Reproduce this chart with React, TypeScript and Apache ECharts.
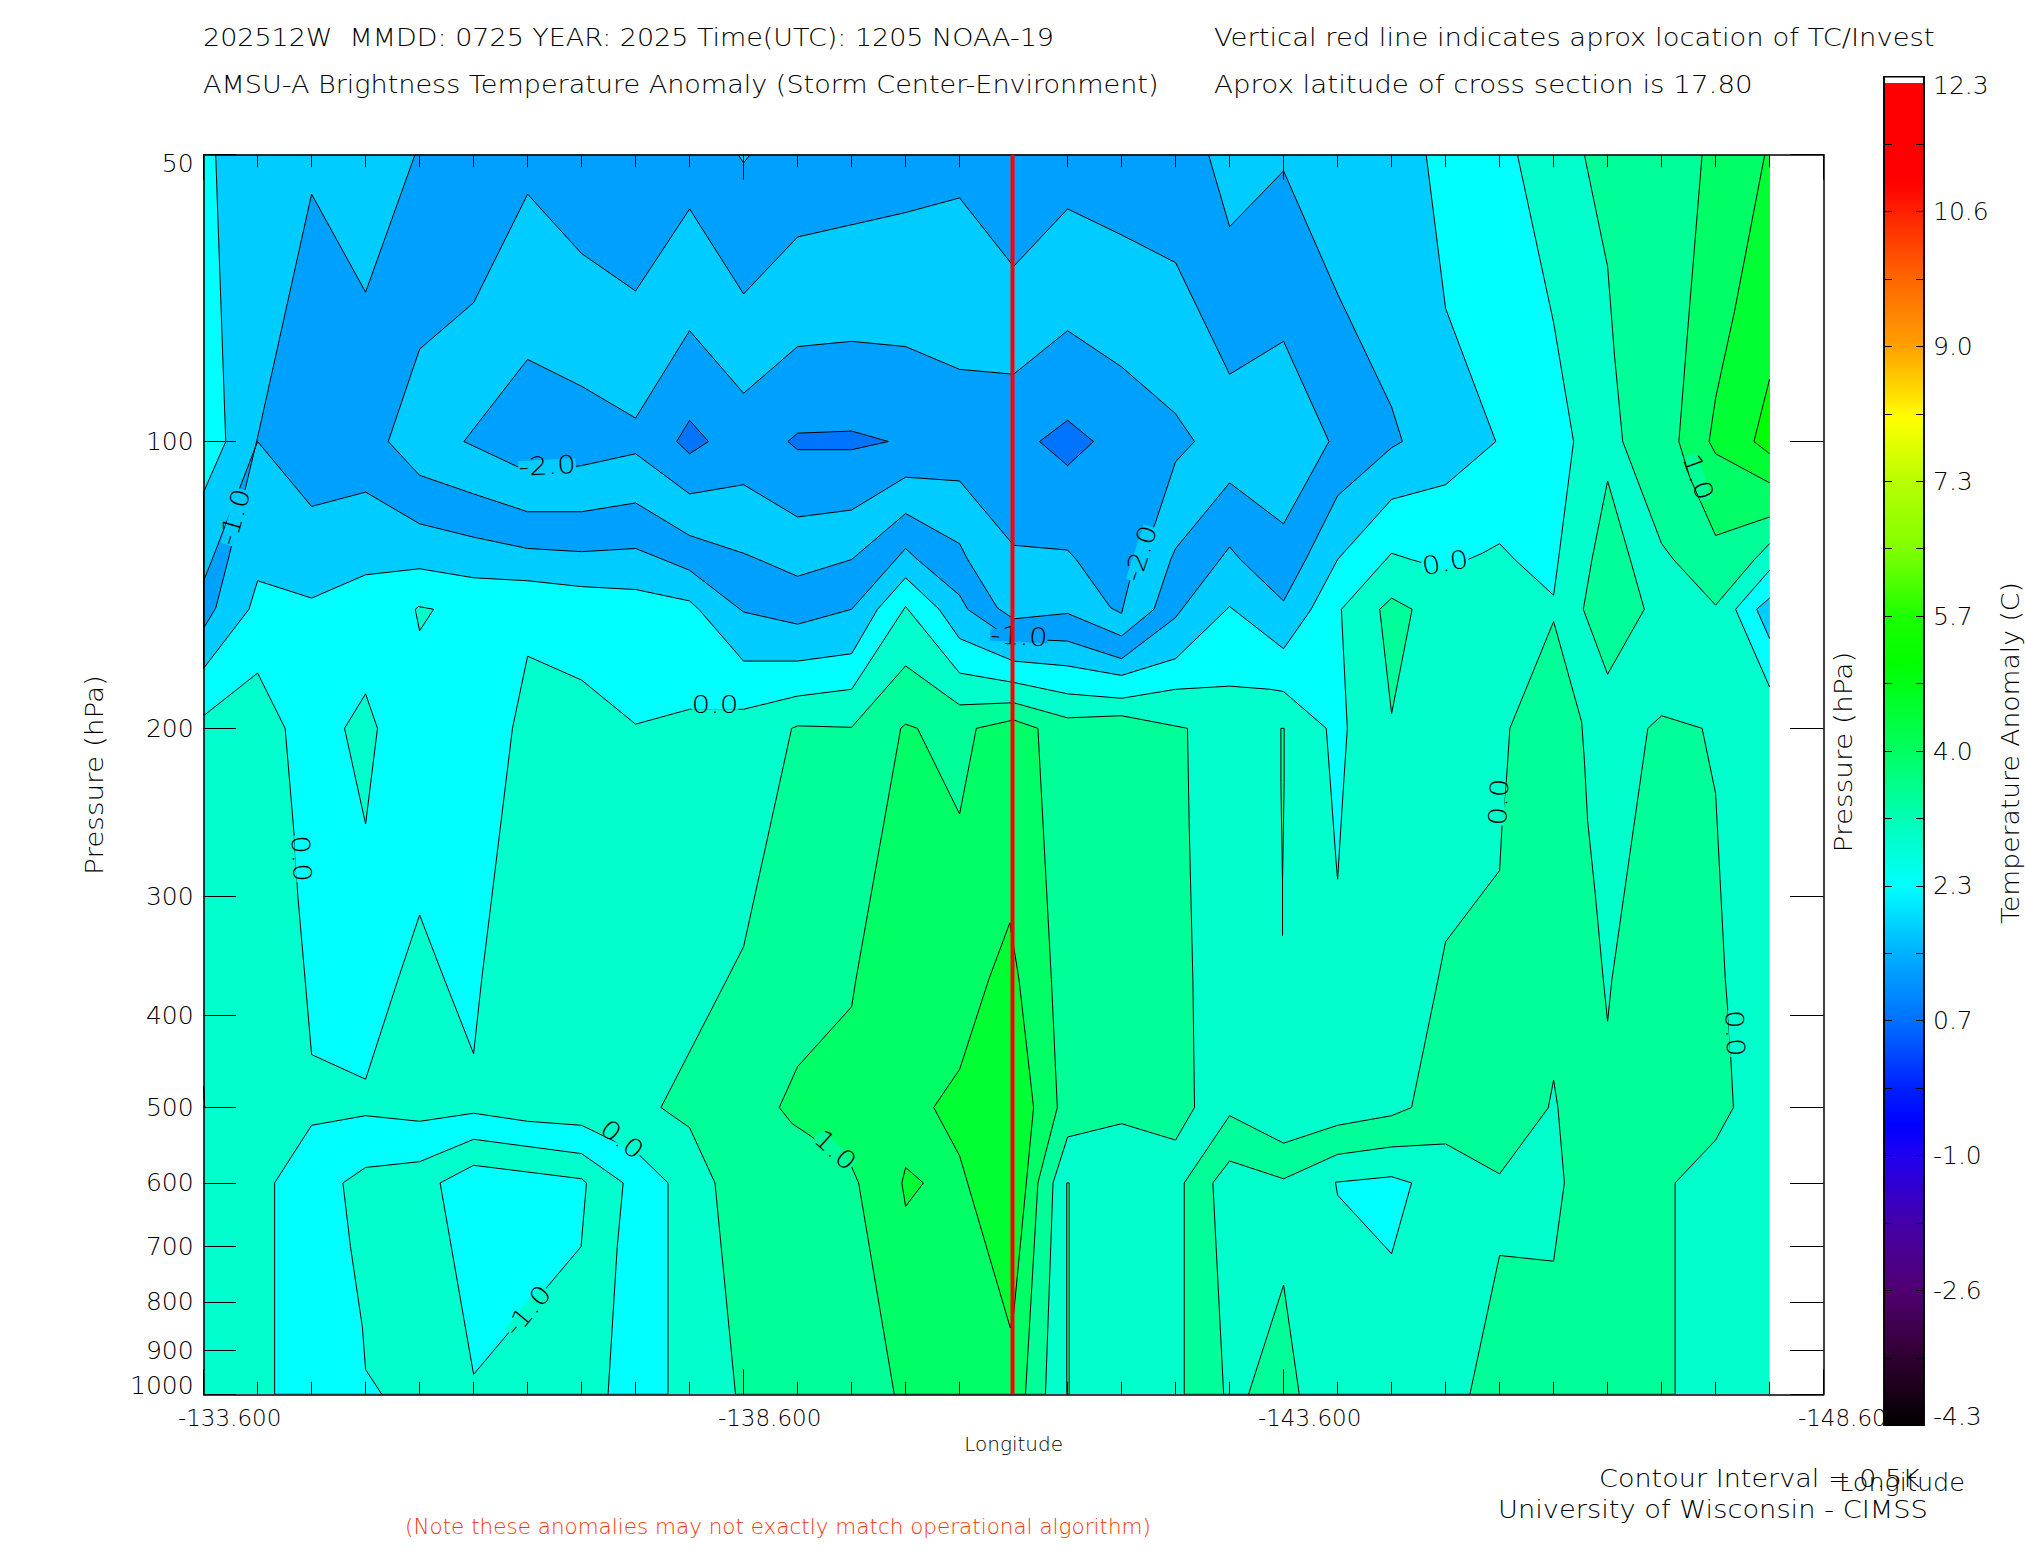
import React, { useEffect, useRef } from "react";
import * as echarts from "echarts";

type Pt = [number, number];

// longitude of grid column k = LON_START + LON_STEP * k ; points are [column, pressure hPa]
const LON_START = -133.6;
const LON_STEP = -0.5;
const LAST_COLUMN = 29;
const RED_LINE_LON = -141.09;

const pressureTicks = [50, 100, 200, 300, 400, 500, 600, 700, 800, 900, 1000];
const lonLabels = [-133.6, -138.6, -143.6, -148.6];
const colorbarLabels = [12.3, 10.64, 8.98, 7.32, 5.66, 4.0, 2.34, 0.68, -0.98, -2.64, -4.3];
const colorbarTicks = Array.from({ length: 21 }, (_, i) => -4.3 + i * 0.83);

const BLUE_A = "#0074ff", BLUE_B = "#00a0ff", BLUE_C = "#00ccff", CYAN = "#00ffff";
const TEAL = "#00ffcc", SPRING = "#00ff99", GREEN_G = "#00ff66", GREEN_H = "#00ff33", GREEN_I = "#00ff00";

const colorStops: [number, string][] = [
  [-4.3, "#000000"], [-3.47, "#300030"], [-2.64, "#500070"], [-1.81, "#4400aa"], [-0.98, "#2000f0"],
  [-0.6, "#0000ff"], [-0.15, "#0020ff"], [0.68, "#0070ff"], [1.51, "#00b0ff"], [2.34, "#00ffff"],
  [3.17, "#00ffb4"], [4.0, "#00ff60"], [5.08, "#00ff00"], [5.66, "#1cff00"], [6.49, "#80ff00"],
  [7.32, "#b8ff00"], [8.1, "#ffff00"], [8.98, "#ffa000"], [9.81, "#ff6600"], [10.64, "#ff2000"],
  [11.0, "#ff0000"], [12.22, "#ff0000"], [12.22, "#ffffff"], [12.3, "#ffffff"],
];

const cyanMain: Pt[] = [[24.33,50],[25,75],[25.37,100],[25.09,133],[25,145],[24.28,133],[24,128],[23.68,131],[23.35,133.5],[22.76,135],[22.36,133],[22,131],[21.07,150],[21.18,200],[21.1,234],[21,288],[20.97,275],[20.885,236],[20.79,200],[20,183],[19.75,182],[19,180.6],[18,182],[17,186],[16,184],[15,179],[14,175],[13,149],[12,182],[11,185],[10,191],[9,191],[8,198],[7,178],[6,168],[5.72,200],[5.15,367],[5,439],[4.46,367],[4,314],[3.6,367],[3,467],[2,440],[1.88,367],[1.745,300],[1.68,260],[1.51,200],[1,175],[0,194]];
const cyanMainClose: Pt[] = [[0,50]];
const tealDiamond: Pt[] = [[3,184],[3.22,200],[3,252],[2.61,200]];
const tealTriangle: Pt[] = [[3.92,150],[3.98,149],[4.26,150],[4,158]];

const blueCMain: Pt[] = [[0.224,50],[0.41,100],[0,113],[0,173],[0.84,150],[1,140],[2,146],[3,138],[4,136],[5,139],[6,140],[7,142],[8,143],[9,147],[9.17,150],[10,170],[11,170],[12,167],[12.48,150],[13,139],[13.62,150],[14,161],[15,170],[16,172],[17,176],[18,169],[19,149],[20,165],[20.51,150],[21,133],[22,115],[23,111],[23.93,100],[23,72.5],[22.64,50]];
const blueBOuter: Pt[] = [[3.915,50],[3,69.7],[2,55],[1,99],[0.456,133],[0.224,149.6],[0,157],[0,140],[0.158,133],[1,100],[2,117],[3,113],[4,122],[5,126],[6,129.5],[7,130.5],[8,129.5],[8.51,133],[9,136.5],[10,151],[11,155.5],[12,150],[13,129.5],[13.22,133],[14,145],[14.15,150],[14.87,160],[15,161],[16,162],[17,169],[18,153],[19,129],[19.2,133],[20,147],[20.41,133],[21,114],[22,101.5],[22.2,100],[22,92],[21,70],[20,52],[19,59.5],[18.61,50]];
const blueCInner: Pt[] = [[3.42,100],[4,80],[5,71.5],[6,55],[7,63.5],[8,69.5],[9,57],[10,70],[11,61],[13,57.5],[14,55.5],[15,65.5],[16,57],[17,60.7],[18,64.9],[19,85],[20,78.5],[20.84,100],[20,122],[19,110.5],[18,129.5],[17.91,133],[17.6,150],[17,160],[16,151.5],[15,153.5],[14.7,149.5],[14.15,133],[14,128],[13,119],[12,133],[11,138.5],[10.28,133],[10,131],[9,125.5],[8,116],[7,118.5],[6,118.5],[5,113.5],[4,108.5]];
const blueBInner: Pt[] = [[4.82,100],[5,97],[6,82],[7,87.5],[8,94.5],[9,76.5],[10,89],[11,79.5],[12,78.5],[13,79.5],[14,84],[15,85],[16,76.5],[17,83.5],[18,93.5],[18.35,100],[18,105],[17.62,122],[17.15,140],[17,151.5],[16.8,149.5],[16.16,133],[16,130],[15,128.5],[14,110],[13,109],[12,118],[11,120],[10,111],[9,113.5],[8,103],[7,106],[6,107.5]];
const blueA1: Pt[] = [[9,95],[9.35,100],[9,103],[8.76,100]];
const blueA2: Pt[] = [[10.82,100],[11,98],[12,97.5],[12.68,100],[12,102],[11,102]];
const blueA3: Pt[] = [[15.48,100],[16,95],[16.48,100],[16,106]];
const topNotch: Pt[] = [[9.9,50],[10,51],[10.12,50]];

const cyanRing: Pt[] = [[1.315,1000],[1.315,600],[2,522],[3,510],[4,517],[5,507],[6,517],[7,522],[8,556],[8.6,600],[8.6,1000]];
const tealRing: Pt[] = [[2.58,600],[3,578],[4,570],[5,540],[7,559],[7.77,600],[7.66,700],[7.49,1000],[3.3,1000],[3,942],[2.94,850],[2.72,700]];
const cyanCore: Pt[] = [[4.38,600],[5,575],[7,594],[7.09,600],[6.99,700],[5,953]];

const springCentre: Pt[] = [[9.85,1000],[9.47,600],[9,525],[8.47,500],[9.69,367],[10,339],[10.89,200],[11,198.8],[12,199.5],[13,172],[14,189],[15,188],[16,195],[17,194],[18.22,200],[18.25,250],[18.32,367],[18.35,500],[18,541],[17,520],[16,537],[15.73,600],[15.59,1000]];
const greenGCentre: Pt[] = [[12.79,1000],[12.13,600],[12,577],[11.23,535],[10.9,520],[10.66,500],[11,453],[12,392],[12.08,367],[12.91,200],[13,198],[13.22,200],[14,246],[14.31,200],[15,196],[15.45,200],[15.7,367],[15.81,500],[15.45,600],[15.22,1000]];
const greenHCentre: Pt[] = [[14.93,320],[15.1,367],[15.37,500],[15,825],[14.94,852],[14,562],[13.52,500],[14,456],[14.54,367]];
const greenHSmall: Pt[] = [[13,578],[13.33,600],[13,635],[12.93,600]];

const springRight: Pt[] = [[18.16,1000],[18.16,600],[19,510],[20,545],[21,522],[22,510],[22.37,500],[22.86,367],[23,335],[24,282],[24.05,250],[24.13,225],[24.19,200],[25,154.5],[25.52,197],[25.57,216],[25.63,250],[25.77,298],[25.92,367],[26,406],[26.08,367],[26.745,200],[27,194],[27.75,200],[28,234],[28.18,367],[28.23,398],[28.28,442],[28.33,500],[28,541],[27.25,600],[27.25,1000]];
const tealRight: Pt[] = [[18.89,1000],[18.69,600],[19,569],[20,594],[21,560],[22,550],[23,546],[24,587],[24.9,500.5],[25,468],[25.08,500],[25.2,600],[25,725],[24,715],[23.45,1000]];
const springPeak: Pt[] = [[19.35,1000],[20,768],[20.29,1000]];
const cyanTriangle: Pt[] = [[20.96,599],[22,591],[22.37,600],[22,712],[21,618]];

const springTop: Pt[] = [[25.57,50],[26,65.5],[26.13,81.5],[26.28,100],[27,128],[27.22,133],[28,148.5],[28.72,133],[29,128]];
const greenGTop: Pt[] = [[27.75,50],[27.52,72],[27.32,100],[27.52,109],[28,125.5],[29,120]];
const greenHTop: Pt[] = [[28.91,50],[28.35,73],[28,90],[27.88,100],[28,103],[29,110.5]];
const greenITop: Pt[] = [[29,86],[28.71,100],[29,103]];
const springKite: Pt[] = [[26,110],[26.42,133],[26.68,150],[26,175.5],[25.55,150],[25.71,133]];
const springKite2: Pt[] = [[22,146],[22.38,150],[22,193],[21.78,150]];
const needleUpper: Pt[] = [[19.95,200],[20.01,200],[20.01,228],[19.98,290],[19.98,330],[19.98,290],[19.95,228]];
const needleLower: Pt[] = [[15.985,1000],[15.985,600],[16.03,600],[16.03,1000]];
const edgeCyan: Pt[] = [[29,136.5],[28.37,150],[29,181]];
const edgeBlue: Pt[] = [[29,146],[28.76,150],[29,161]];
const edgeMark: Pt[] = [[0,475],[0.02,500]];

type Shape = { color: string; pts: Pt[]; close?: Pt[]; noStroke?: boolean };
const shapes: Shape[] = [
  { color: TEAL, pts: [[0, 50], [LAST_COLUMN, 50], [LAST_COLUMN, 1000], [0, 1000]], noStroke: true },
  { color: CYAN, pts: cyanMain, close: cyanMainClose },
  { color: TEAL, pts: tealDiamond }, { color: TEAL, pts: tealTriangle },
  { color: BLUE_C, pts: blueCMain }, { color: BLUE_B, pts: blueBOuter }, { color: BLUE_C, pts: blueCInner },
  { color: BLUE_B, pts: blueBInner }, { color: BLUE_A, pts: blueA1 }, { color: BLUE_A, pts: blueA2 }, { color: BLUE_A, pts: blueA3 },
  { color: BLUE_C, pts: topNotch },
  { color: CYAN, pts: cyanRing }, { color: TEAL, pts: tealRing }, { color: CYAN, pts: cyanCore },
  { color: SPRING, pts: springCentre }, { color: GREEN_G, pts: greenGCentre }, { color: GREEN_H, pts: greenHCentre }, { color: GREEN_H, pts: greenHSmall },
  { color: SPRING, pts: springRight }, { color: TEAL, pts: tealRight }, { color: SPRING, pts: springPeak }, { color: CYAN, pts: cyanTriangle },
  { color: SPRING, pts: springTop, close: [[LAST_COLUMN, 50]] },
  { color: GREEN_G, pts: greenGTop, close: [[LAST_COLUMN, 50]] },
  { color: GREEN_H, pts: greenHTop, close: [[LAST_COLUMN, 50]] },
  { color: GREEN_I, pts: greenITop, close: [] },
  { color: SPRING, pts: springKite }, { color: SPRING, pts: springKite2 },
  { color: SPRING, pts: needleUpper }, { color: SPRING, pts: needleLower },
  { color: CYAN, pts: edgeCyan, close: [] }, { color: BLUE_C, pts: edgeBlue, close: [] },
  { color: TEAL, pts: edgeMark },
];

const contourLabels: { col: number; p: number; text: string; rot: number; bg: string }[] = [
  { col: 6.36, p: 106, text: "-2.0", rot: 3, bg: BLUE_C },
  { col: 0.57, p: 120, text: "-1.0", rot: 74, bg: BLUE_C },
  { col: 17.35, p: 131, text: "-2.0", rot: 72, bg: BLUE_C },
  { col: 15.1, p: 160, text: "-1.0", rot: -3, bg: BLUE_B },
  { col: 9.47, p: 188.5, text: "0.0", rot: 0, bg: CYAN },
  { col: 22.99, p: 134, text: "0.0", rot: 10, bg: CYAN },
  { col: 1.81, p: 274, text: "0.0", rot: -87, bg: CYAN },
  { col: 23.98, p: 239, text: "0.0", rot: 87, bg: TEAL },
  { col: 28.36, p: 418, text: "0.0", rot: -87, bg: TEAL },
  { col: 27.68, p: 109, text: "1.0", rot: -70, bg: SPRING },
  { col: 11.7, p: 554, text: "1.0", rot: -42, bg: SPRING },
  { col: 7.75, p: 540, text: "0.0", rot: -38, bg: TEAL },
  { col: 6.0, p: 817, text: "-1.0", rot: 50, bg: TEAL },
];

const allColumnLons = Array.from({ length: 31 }, (_, k) => LON_START + LON_STEP * k);
const FONT = "DejaVu Sans";
const WEIGHT = 200;
const toLon = (k: number) => LON_START + LON_STEP * k;

const txt = (x: number, y: number, text: string, size: number, opts: any = {}) => ({
  type: "text", x, y, z: 100, rotation: opts.rotation ?? 0, scaleX: opts.scaleX ?? 1,
  style: { text, fontFamily: FONT, fontWeight: WEIGHT, fontSize: size, fill: opts.fill ?? "#000",
    align: opts.align ?? "left", verticalAlign: "middle" },
});

export default function App() {
  const ref = useRef<HTMLDivElement>(null);
  useEffect(() => {
    document.body.style.margin = "0";
    const chart = echarts.init(ref.current!, undefined, { renderer: "svg" });
    const labelFont = { fontFamily: FONT, fontWeight: WEIGHT, color: "#000" };
    const line = { show: true, onZero: false, lineStyle: { color: "#000", width: 1.5 } };
    const tick = (values: number[], length: number) => ({ show: true, inside: true, length, customValues: values, lineStyle: { color: "#000", width: 1 } });
    const xBase = { type: "value", min: -148.6, max: -133.6, inverse: true, gridIndex: 0, z: 5, splitLine: { show: false } };
    const yBase = { type: "log", logBase: 10, min: 50, max: 1000, inverse: true, gridIndex: 0, z: 5, splitLine: { show: false }, minorTick: { show: false } };
    chart.setOption({
      animation: false,
      backgroundColor: "#fff",
      grid: [
        { left: 203.6, top: 154.7, width: 1620, height: 1239.6 },
        { left: 1884, top: 76.7, width: 40, height: 1348.6 },
      ],
      xAxis: [
        { ...xBase, position: "bottom", axisLine: line, axisTick: tick(allColumnLons, 12.5),
          axisLabel: { show: true, customValues: lonLabels, formatter: (v: number) => v.toFixed(3), fontSize: 23, margin: 12, padding: [0, 0, 0, 52], ...labelFont },
          name: "Longitude", nameLocation: "middle", nameGap: 33, nameTextStyle: { fontSize: 20, ...labelFont } },
        { ...xBase, position: "top", axisLine: line, axisTick: tick(allColumnLons, 12.5), axisLabel: { show: false } },
        { ...xBase, position: "bottom", axisLine: { show: false }, axisTick: tick(lonLabels, 25), axisLabel: { show: false } },
        { ...xBase, position: "top", axisLine: { show: false }, axisTick: tick(lonLabels, 25), axisLabel: { show: false } },
        { type: "value", min: 0, max: 1, gridIndex: 1, show: false },
      ],
      yAxis: [
        { ...yBase, position: "left", axisLine: line, axisTick: tick(pressureTicks, 32.5),
          axisLabel: { show: true, customValues: pressureTicks, formatter: (v: number) => String(Math.round(v)), fontSize: 25, lineHeight: 17, margin: 10, verticalAlignMinLabel: "top", verticalAlignMaxLabel: "bottom", ...labelFont } },
        { ...yBase, position: "right", axisLine: line, axisTick: tick(pressureTicks, 33.5), axisLabel: { show: false } },
        { type: "value", min: -4.3, max: 12.3, gridIndex: 1, position: "right", z: 12, splitLine: { show: false }, axisLine: line,
          axisTick: tick(colorbarTicks, 8),
          axisLabel: { show: true, customValues: colorbarLabels, formatter: (v: number) => v.toFixed(1), fontSize: 25, lineHeight: 17, margin: 9, verticalAlignMinLabel: "top", verticalAlignMaxLabel: "bottom", ...labelFont } },
        { type: "value", min: -4.3, max: 12.3, gridIndex: 1, position: "left", z: 12, splitLine: { show: false }, axisLine: line,
          axisTick: tick(colorbarTicks, 8), axisLabel: { show: false } },
      ],
      series: [
        {
          type: "custom", xAxisIndex: 0, yAxisIndex: 0, z: 2, silent: true, clip: true,
          data: shapes.map((s) => [toLon(s.pts[0][0]), s.pts[0][1]]),
          encode: { x: 0, y: 1 },
          renderItem: (params: any, api: any) => {
            const s = shapes[params.dataIndex];
            const map = (a: Pt[]) => a.map(([k, p]) => api.coord([toLon(k), p]));
            const line_ = map(s.pts);
            if (s.close) {
              return { type: "group", children: [
                { type: "polygon", shape: { points: [...line_, ...map(s.close)] }, style: { fill: s.color, stroke: "none" } },
                { type: "polyline", shape: { points: line_ }, style: { fill: "none", stroke: "#000", lineWidth: 1 } },
              ] };
            }
            return { type: "polygon", shape: { points: line_ }, style: { fill: s.color, stroke: s.noStroke ? "none" : "#000", lineWidth: 1 } };
          },
        },
        {
          type: "custom", xAxisIndex: 0, yAxisIndex: 0, z: 6, silent: true,
          data: contourLabels.map((l) => [toLon(l.col), l.p]), encode: { x: 0, y: 1 },
          renderItem: (params: any, api: any) => {
            const l = contourLabels[params.dataIndex];
            const [x, y] = api.coord([toLon(l.col), l.p]);
            return { type: "text", x, y, scaleX: 1.18, rotation: (l.rot * Math.PI) / 180,
              style: { text: l.text, fontFamily: FONT, fontWeight: WEIGHT, fontSize: 25, lineHeight: 12, fill: "#000", align: "center", verticalAlign: "middle", backgroundColor: l.bg } };
          },
        },
        {
          type: "line", xAxisIndex: 0, yAxisIndex: 0, z: 7, silent: true, symbol: "none",
          data: [[RED_LINE_LON, 50], [RED_LINE_LON, 1000]], lineStyle: { color: "#ff0000", width: 4 },
        },
        {
          type: "custom", xAxisIndex: 4, yAxisIndex: 2, z: 10, silent: true, clip: false,
          data: [[0, -4.3]], encode: { x: 0, y: 1 },
          renderItem: (_p: any, api: any) => {
            const [x0, y0] = api.coord([0, -4.3]);
            const [x1, y1] = api.coord([1, 12.3]);
            const span = 12.3 - -4.3;
            return { type: "rect", shape: { x: x0, y: y1, width: x1 - x0, height: y0 - y1 },
              style: { stroke: "#000", lineWidth: 1.5, fill: { type: "linear", x: 0, y: 1, x2: 0, y2: 0,
                colorStops: colorStops.map(([v, c]) => ({ offset: (v + 4.3) / span, color: c })) } } };
          },
        },
      ],
      graphic: { elements: [
        txt(203, 37.5, "202512W  MMDD: 0725 YEAR: 2025 Time(UTC): 1205 NOAA-19", 25, { scaleX: 1.078 }),
        txt(203, 84, "AMSU-A Brightness Temperature Anomaly (Storm Center-Environment)", 25, { scaleX: 1.082 }),
        txt(1214, 37.5, "Vertical red line indicates aprox location of TC/Invest", 25, { scaleX: 1.096 }),
        txt(1214, 84, "Aprox latitude of cross section is 17.80", 25, { scaleX: 1.109 }),
        txt(94, 775, "Pressure (hPa)", 25, { rotation: Math.PI / 2, align: "center", scaleX: 1.115 }),
        txt(1843, 752, "Pressure (hPa)", 25, { rotation: Math.PI / 2, align: "center", scaleX: 1.12 }),
        txt(2010, 753, "Temperature Anomaly (C)", 25, { rotation: Math.PI / 2, align: "center", scaleX: 1.065 }),
        txt(1902, 1483, "Longitude", 25, { align: "center", scaleX: 1.02 }),
        txt(1599, 1478, "Contour Interval = 0.5K", 25, { scaleX: 1.083 }),
        txt(1498, 1509, "University of Wisconsin - CIMSS", 25, { scaleX: 1.092 }),
        txt(405, 1527, "(Note these anomalies may not exactly match operational algorithm)", 20.5, { fill: "#ff3300", scaleX: 1.05 }),
      ] },
    });
    return () => chart.dispose();
  }, []);
  return <div ref={ref} style={{ position: "absolute", left: 0, top: 0, width: 2025, height: 1550 }} />;
}
